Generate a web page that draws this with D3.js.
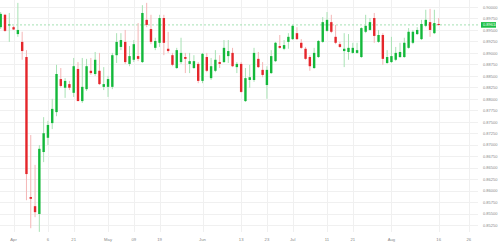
<!DOCTYPE html>
<html>
<head>
<meta charset="utf-8">
<script src="https://cdn.jsdelivr.net/npm/d3@7"></script>
<style>
  html, body { margin: 0; padding: 0; background: #fff; }
  svg { display: block; }
</style>
</head>
<body>
<div id="chart"></div>
<script>
// daily candles (103 bars)
var openP = [.8956,.8983,.8960,.8956,.8941,.8924,.8891,.8586,.8566,.8549,.8684,.8715,.8747,.8771,.8843,.8824,.8832,.8813,.8865,.8795,
  .8821,.8861,.8854,.8861,.8826,.8826,.8826,.8895,.8913,.8924,.8876,.8885,.8893,.8880,.8972,.8952,.8911,.8922,.8976,.8909,
  .8895,.8867,.8880,.8891,.8876,.8867,.8876,.8839,.8891,.8845,.8861,.8880,.8880,.8893,.8900,.8869,.8876,.8795,.8841,.8841,
  .8887,.8863,.8830,.8856,.8882,.8915,.8909,.8924,.8930,.8943,.8922,.8909,.8891,.8867,.8891,.8924,.8948,.8967,.8935,.8919,
  .8904,.8902,.8900,.8900,.8891,.8946,.8950,.8976,.8924,.8939,.8878,.8880,.8885,.8891,.8891,.8911,.8922,.8941,.8930,.8959,
  .8967,.8943,.8963];
var highP = [.8989,.8985,.8987,.8959,.9009,.8946,.8906,.8721,.8656,.8699,.8760,.8752,.8800,.8874,.8867,.8845,.8839,.8889,.8880,.8889,
  .8887,.8889,.8902,.8900,.8869,.8850,.8900,.8943,.8943,.8950,.8915,.8928,.8965,.9004,.9009,.8983,.8933,.8983,.8983,.8946,
  .8900,.8911,.8933,.8900,.8900,.8895,.8880,.8900,.8900,.8889,.8906,.8895,.8928,.8928,.8911,.8880,.8880,.8867,.8874,.8911,
  .8902,.8880,.8871,.8906,.8924,.8939,.8928,.8943,.8961,.8956,.8930,.8913,.8895,.8911,.8928,.8978,.8989,.8983,.8961,.8924,
  .8943,.8941,.8922,.8922,.8956,.8983,.8976,.8987,.8950,.8943,.8906,.8935,.8913,.8922,.8933,.8954,.8950,.8956,.8972,.8994,
  .8996,.8994,.8976];
var lowP = [.8952,.8946,.8924,.8950,.8935,.8885,.8579,.8518,.8542,.8510,.8662,.8699,.8734,.8762,.8824,.8802,.8819,.8804,.8795,.8791,
  .8817,.8852,.8850,.8830,.8819,.8804,.8821,.8878,.8906,.8876,.8871,.8880,.8882,.8878,.8956,.8919,.8906,.8913,.8895,.8900,
  .8871,.8865,.8876,.8856,.8856,.8865,.8834,.8834,.8858,.8841,.8858,.8867,.8878,.8878,.8869,.8856,.8813,.8793,.8824,.8837,
  .8867,.8847,.8800,.8854,.8880,.8909,.8906,.8909,.8928,.8928,.8909,.8885,.8861,.8865,.8889,.8922,.8946,.8943,.8919,.8911,
  .8869,.8885,.8898,.8898,.8889,.8943,.8948,.8922,.8922,.8874,.8876,.8878,.8882,.8889,.8889,.8909,.8919,.8939,.8928,.8956,
  .8935,.8941,.8959];
var closeP = [.8985,.8948,.8962,.8951,.8950,.8904,.8636,.8582,.8553,.8691,.8725,.8743,.8778,.8854,.8828,.8839,.8824,.8871,.8795,.8826,
  .8871,.8856,.8885,.8832,.8832,.8843,.8895,.8924,.8928,.8880,.8893,.8919,.8887,.8987,.8961,.8924,.8926,.8976,.8922,.8904,
  .8874,.8906,.8900,.8887,.8882,.8882,.8839,.8898,.8861,.8871,.8885,.8876,.8911,.8904,.8871,.8876,.8815,.8845,.8847,.8900,
  .8869,.8852,.8863,.8893,.8922,.8911,.8917,.8935,.8959,.8930,.8911,.8887,.8871,.8900,.8926,.8967,.8972,.8946,.8922,.8913,
  .8909,.8911,.8911,.8906,.8954,.8959,.8967,.8937,.8939,.8887,.8891,.8893,.8900,.8902,.8922,.8946,.8946,.8950,.8963,.8972,
  .8950,.8965,.8961];

// time axis labels (bar index where each one sits)
var tickIdx = [3, 11, 17, 25, 31, 37, 47, 56, 62, 68, 76, 82, 91, 102, 109];
var tickLbl = ["Apr", "6", "21", "May", "09", "19", "Jun", "13", "23", "Jul", "11", "21", "Aug", "16", "26"];

// price axis labels
var priceTicks = [0.90000, 0.89750, 0.89500, 0.89250, 0.89000, 0.88750, 0.88500, 0.88250, 0.88000, 0.87750,
  0.87500, 0.87250, 0.87000, 0.86750, 0.86500, 0.86250, 0.86000, 0.85750, 0.85500, 0.85250];

var width = 500, height = 244;
var plotRight = 478, plotBottom = 232;

var svg = d3.select("#chart").append("svg")
  .attr("width", width)
  .attr("height", height)
  .style("font-family", "Arial, 'Liberation Sans', sans-serif");

var x = d3.scaleLinear().domain([0, 111]).range([0.7, 477.3]);
var y = d3.scaleLinear().domain([0.8525, 0.9]).range([225, 7]);

var upCol = "#13b83a", downCol = "#e5262b";
var upWick = "#a8e2b4", downWick = "#f4b6b6";

// grid
svg.append("g").selectAll("line")
  .data(priceTicks)
  .enter().append("line")
    .attr("x1", 0).attr("x2", plotRight)
    .attr("y1", function (d) { return Math.round(y(d)) + 0.5; })
    .attr("y2", function (d) { return Math.round(y(d)) + 0.5; })
    .attr("stroke", "#f0f0f0");

svg.append("g").selectAll("line")
  .data(tickIdx)
  .enter().append("line")
    .attr("x1", function (d) { return Math.round(x(d)) + 0.5; })
    .attr("x2", function (d) { return Math.round(x(d)) + 0.5; })
    .attr("y1", 0).attr("y2", plotBottom)
    .attr("stroke", "#f0f0f0");

// last price line
var last = closeP[closeP.length - 1];
svg.append("line")
  .attr("x1", 0).attr("x2", plotRight)
  .attr("y1", y(last)).attr("y2", y(last))
  .attr("stroke", "#8fd9a0")
  .attr("stroke-width", 0.8)
  .attr("stroke-dasharray", "2,2");

// candles
var idx = d3.range(openP.length);
var bodyW = 2.4;
var candles = svg.append("g").selectAll("g")
  .data(idx)
  .enter().append("g");

candles.append("line")
  .attr("x1", function (i) { return x(i); })
  .attr("x2", function (i) { return x(i); })
  .attr("y1", function (i) { return y(highP[i]); })
  .attr("y2", function (i) { return y(lowP[i]); })
  .attr("stroke", function (i) { return closeP[i] >= openP[i] ? upWick : downWick; })
  .attr("stroke-width", 1);

candles.append("rect")
  .attr("x", function (i) { return x(i) - bodyW / 2; })
  .attr("width", bodyW)
  .attr("y", function (i) { return y(Math.max(openP[i], closeP[i])); })
  .attr("height", function (i) { return Math.max(1, Math.abs(y(openP[i]) - y(closeP[i]))); })
  .attr("fill", function (i) { return closeP[i] >= openP[i] ? upCol : downCol; });

// price axis
var yAxis = d3.axisRight(y)
  .tickValues(priceTicks)
  .tickSize(0)
  .tickPadding(0)
  .tickFormat(d3.format(".5f"));

var ya = svg.append("g")
  .attr("transform", "translate(483,0)")
  .call(yAxis);
ya.select(".domain").remove();
ya.selectAll("text")
  .attr("fill", "#888")
  .style("font-size", "4px");

// time axis
svg.append("g").selectAll("text")
  .data(tickIdx)
  .enter().append("text")
    .attr("x", function (d) { return x(d); })
    .attr("y", 241)
    .attr("text-anchor", "middle")
    .attr("fill", "#888")
    .style("font-size", "4.2px")
    .text(function (d, i) { return tickLbl[i]; });

// last price tag
svg.append("rect")
  .attr("x", 481).attr("y", y(last) - 2.8)
  .attr("width", 15).attr("height", 5.6)
  .attr("fill", "#1cbf45");
svg.append("text")
  .attr("x", 483).attr("y", y(last))
  .attr("dy", "0.35em")
  .attr("fill", "#fff")
  .style("font-size", "4px")
  .text(d3.format(".5f")(last));
</script>
</body>
</html>
